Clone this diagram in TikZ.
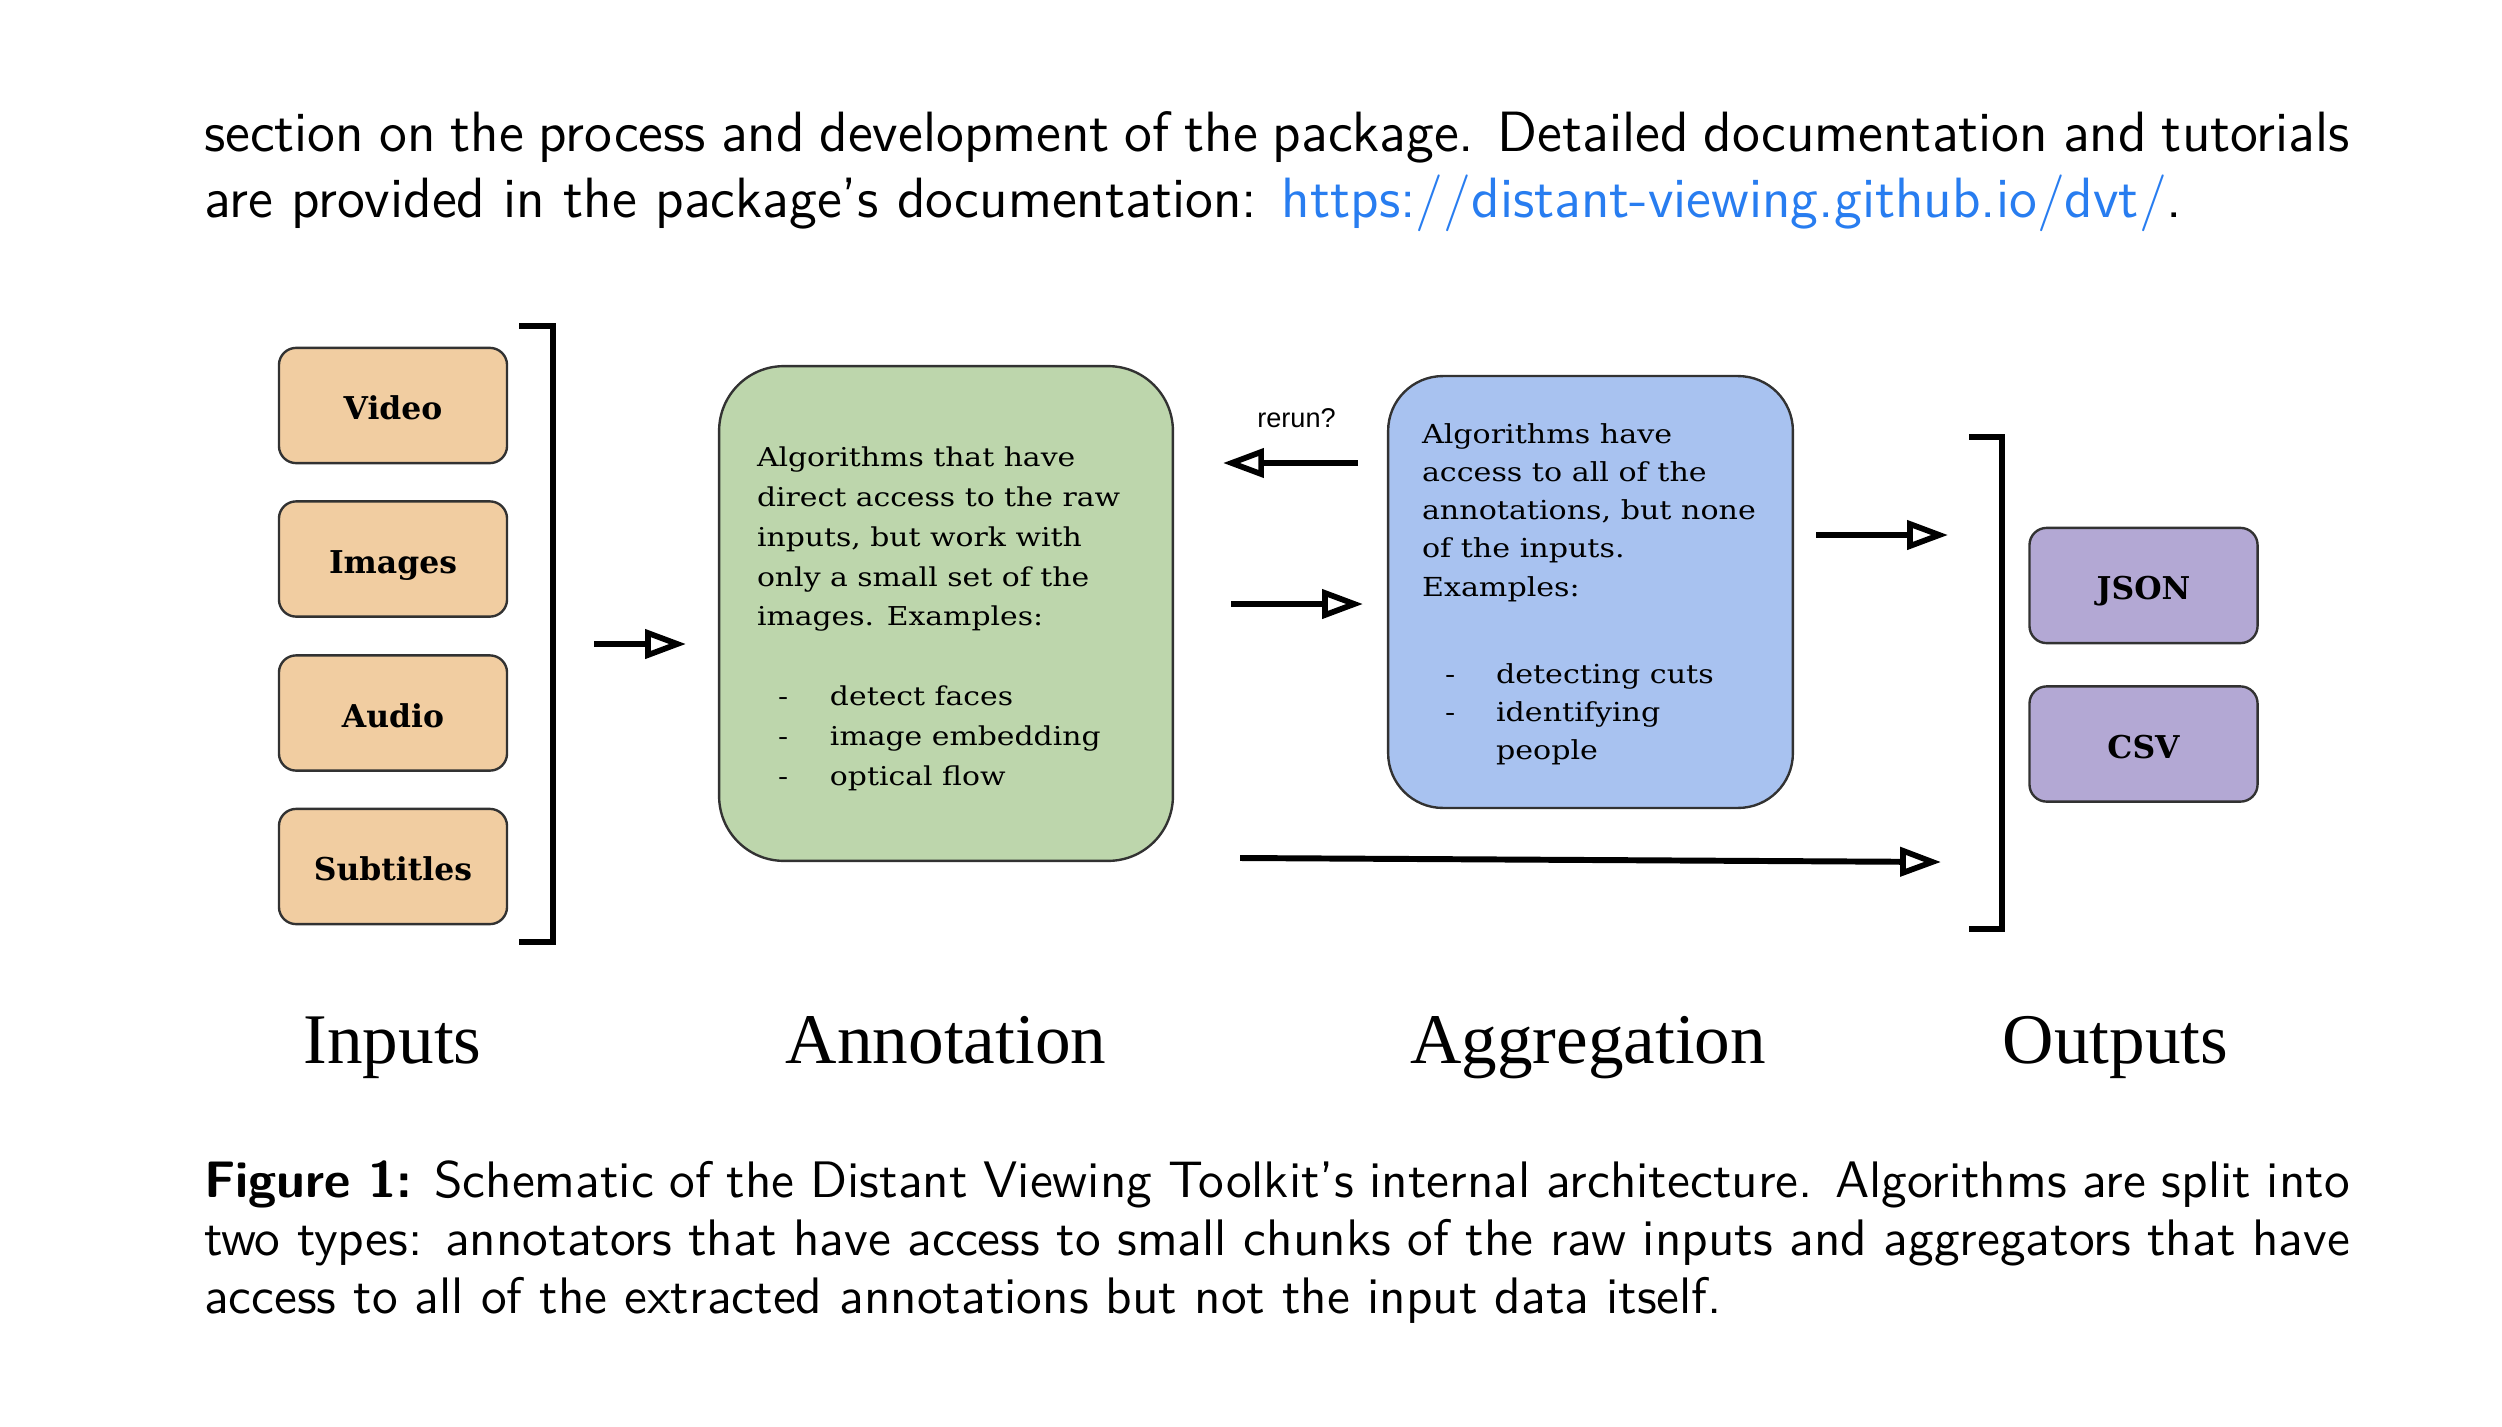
\documentclass[tikz,border=0pt]{standalone}
\usepackage{fontspec}
\usetikzlibrary{arrows.meta}
\newfontfamily\boxfont[FakeStretch=1.15]{DejaVu Serif}
\newfontfamily\labfont{DejaVu Serif}
\newfontfamily\bigfont{Liberation Serif}
\newfontfamily\rerunfont{Liberation Sans}
\definecolor{peach}{RGB}{241,205,161}
\definecolor{annotgreen}{RGB}{189,214,172}
\definecolor{aggblue}{RGB}{168,194,240}
\definecolor{outpurple}{RGB}{179,168,212}
\definecolor{boxline}{RGB}{50,50,50}
\definecolor{linkblue}{RGB}{40,125,240}
\begin{document}
\begin{tikzpicture}[x=0.21pt,y=-0.21pt,
  txt/.style={inner sep=0pt, outer sep=0pt},
  inbox/.style={draw=boxline, line width=0.5pt, rounded corners=3.6pt, fill=peach,
    minimum width=47.9pt, minimum height=24.2pt, inner sep=0pt,
    font=\labfont\bfseries\fontsize{6.6pt}{7.5pt}\selectfont, text height=1.4ex, text depth=0pt},
  outbox/.style={inbox, fill=outpurple},
  bigbox/.style={draw=boxline, line width=0.5pt, inner sep=0pt},
  arr/.style={line width=1.25pt, -{Triangle[open, length=8.6pt, width=6pt, line width=1.2pt]}},
  brk/.style={line width=1.25pt},
  stage/.style={txt, anchor=base, font=\bigfont\fontsize{14.95pt}{16pt}\selectfont},
  bodytxt/.style={txt, anchor=base west, font=\sffamily\fontsize{11.93pt}{13.6pt}\selectfont},
  captxt/.style={txt, anchor=base west, font=\sffamily\fontsize{10.78pt}{12pt}\selectfont}
]
\useasboundingbox (0,0) rectangle (2502,1426);

% running text above
\node[bodytxt] (l1) at (204,152) {\makebox[450.66pt][s]{section on the process and development of the package.  Detailed documentation and tutorials}};
\node[bodytxt] (l2) at (204,217) {are provided in the package's documentation: \textcolor{linkblue}{https://distant-viewing.github.io/dvt/}.};

% input boxes
\node[inbox] (video) at (393,405.5) {Video};
\node[inbox] (images) at (393,559) {Images};
\node[inbox] (audio) at (393,713) {Audio};
\node[inbox] (subs) at (393,866.5) {Subtitles};
\draw[brk] (519,326) -- (553,326) -- (553,942) -- (519,942);

% annotation box
\node[bigbox, fill=annotgreen, rounded corners=13.6pt, minimum width=95.3pt, minimum height=103.9pt] (annot) at (946,613.5) {};
\node[txt, anchor=base west, font=\boxfont\fontsize{5.45pt}{8.4pt}\selectfont] (annottext) at (757,466) {\parbox[t]{92pt}{Algorithms that have\\
direct access to the raw\\
inputs, but work with\\
only a small set of the\\
images. Examples:\\[8.2pt]
\hspace*{4.41pt}\makebox[10.92pt][l]{-}detect faces\\
\hspace*{4.41pt}\makebox[10.92pt][l]{-}image embedding\\
\hspace*{4.41pt}\makebox[10.92pt][l]{-}optical flow}};

% aggregation box
\node[bigbox, fill=aggblue, rounded corners=11.5pt, minimum width=85pt, minimum height=90.7pt] (agg) at (1590.5,592) {};
\node[txt, anchor=base west, font=\boxfont\fontsize{5.5pt}{8.04pt}\selectfont] (aggtext) at (1422,443) {\parbox[t]{82pt}{Algorithms have\\
access to all of the\\
annotations, but none\\
of the inputs.\\
Examples:\\[10.2pt]
\hspace*{4.83pt}\makebox[10.71pt][l]{-}detecting cuts\\
\hspace*{4.83pt}\makebox[10.71pt][l]{-}identifying\\
\hspace*{15.54pt}people}};

% outputs
\node[outbox] (json) at (2143.5,585.5) {JSON};
\node[outbox] (csv) at (2143.5,744) {CSV};
\draw[brk] (1969,437) -- (2002,437) -- (2002,929) -- (1969,929);

% arrows
\coordinate (a1s) at (594,644);  \coordinate (a1e) at (686,644);
\coordinate (a2s) at (1358,463); \coordinate (a2e) at (1223,463);
\coordinate (a3s) at (1231,604); \coordinate (a3e) at (1363,604);
\coordinate (a4s) at (1816,535); \coordinate (a4e) at (1948,535);
\coordinate (a5s) at (1240,858); \coordinate (a5e) at (1941,862);
\draw[arr] (a1s) -- (a1e);
\draw[arr] (a2s) -- (a2e);
\draw[arr] (a3s) -- (a3e);
\draw[arr] (a4s) -- (a4e);
\draw[arr] (a5s) -- (a5e);
\node[txt, anchor=base, font=\rerunfont\fontsize{5.7pt}{6.5pt}\selectfont] (rerun) at (1296.5,427) {rerun?};

% stage labels
\node[stage] (sin) at (392.5,1063) {Inputs};
\node[stage] (sann) at (946,1063) {Annotation};
\node[stage] (sagg) at (1588,1063) {Aggregation};
\node[stage] (sout) at (2115.5,1063) {Outputs};

% caption
\node[captxt] (c1) at (204,1197) {\makebox[450.66pt][s]{\textbf{Figure 1:} Schematic of the Distant Viewing Toolkit's internal architecture. Algorithms are split into}};
\node[captxt] (c2) at (204,1255) {\makebox[450.66pt][s]{two types: annotators that have access to small chunks of the raw inputs and aggregators that have}};
\node[captxt] (c3) at (204,1313) {access to all of the extracted annotations but not the input data itself.};
\end{tikzpicture}
\end{document}
